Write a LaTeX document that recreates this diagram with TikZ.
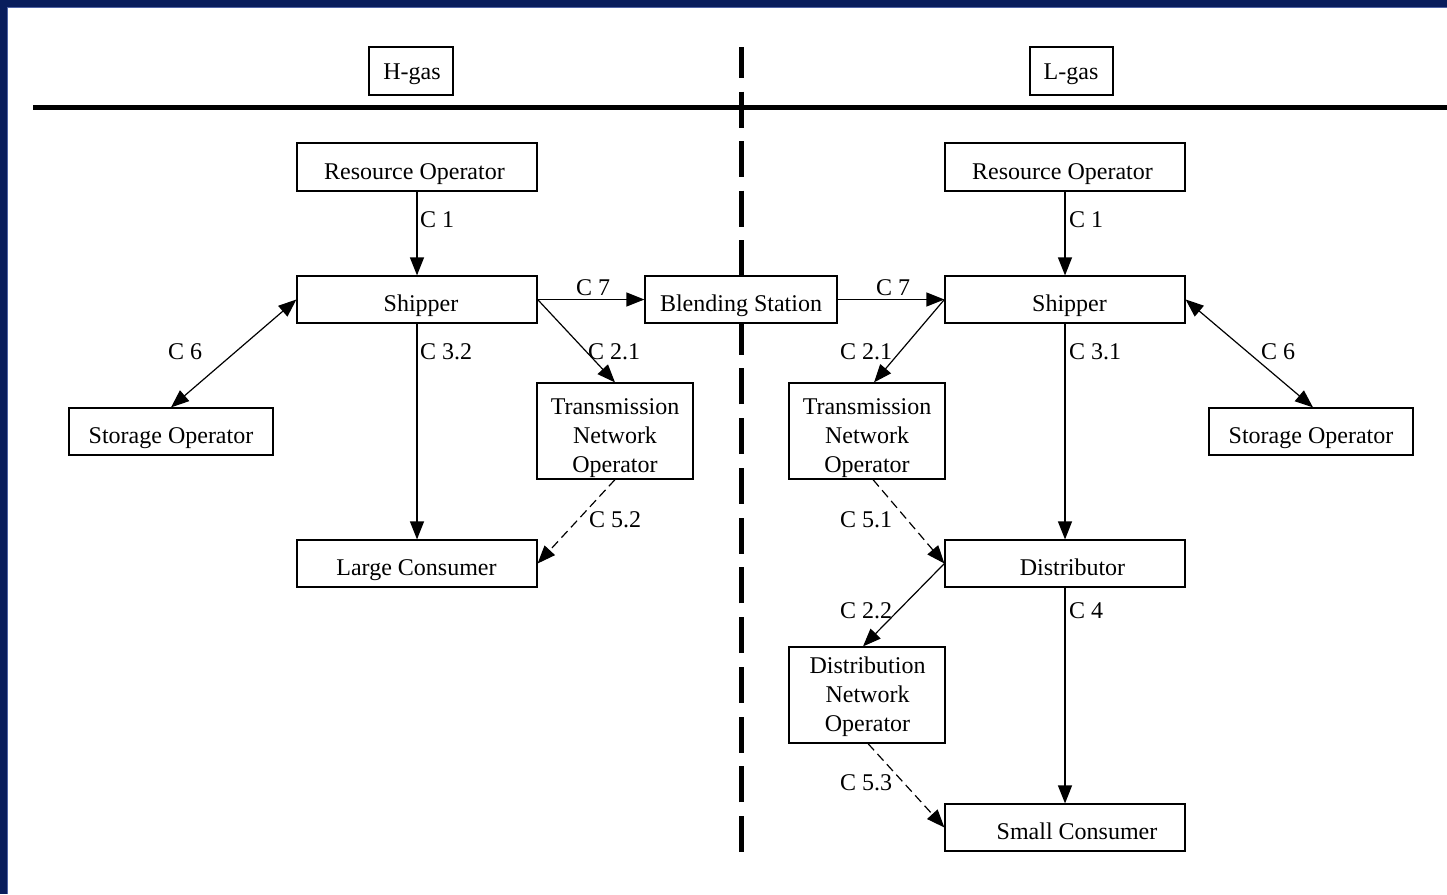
\documentclass[tikz,border=0pt]{standalone}
\usepackage{fontspec}
\setmainfont{Liberation Serif}
\usetikzlibrary{arrows.meta}
\definecolor{navy}{RGB}{9,29,92}
\definecolor{navyedge}{RGB}{80,100,165}
\begin{document}
\begin{tikzpicture}[x=1pt,y=-1pt,
  box/.style={draw,fill=white,line width=1.2pt,inner sep=0pt},
  txt/.style={font=\fontsize{24}{29}\selectfont,inner sep=0pt,anchor=base},
  lab/.style={font=\fontsize{24}{29}\selectfont,inner sep=0pt,anchor=west},
  conn/.style={line width=1.2pt,-{Triangle[length=18pt,width=14pt]}},
  dconn/.style={conn,dash pattern=on 9pt off 5pt},
  bconn/.style={line width=1.2pt,{Triangle[length=18pt,width=14pt]}-{Triangle[length=18pt,width=14pt]}},
  divider/.style={line width=5pt}]
\useasboundingbox (0,0) rectangle (1447,894);
\fill[white] (0,0) rectangle (1447,894);
% frame
\fill[navy] (0,0) rectangle (1447,7);
\fill[navy] (0,0) rectangle (7,894);
\draw[navyedge,line width=1pt] (7.5,894) -- (7.5,7.5) -- (1447,7.5);
% dividers
\draw[divider] (33,107.5) -- (1447,107.5);
\draw[divider,dash pattern=on 36pt off 13.5pt,dash phase=5pt] (741.5,47) -- (741.5,323);
\draw[divider,dash pattern=on 36pt off 13.75pt] (741.5,852) -- (741.5,320);
% boxes
\node[box,minimum width=84pt,minimum height=48pt] (hg) at (411,71) {};
\node[box,minimum width=83pt,minimum height=48pt] (lg) at (1071.5,71) {};
\node[box,minimum width=240pt,minimum height=48pt] (ro1) at (417,167) {};
\node[box,minimum width=240pt,minimum height=47pt] (sh1) at (417,299.5) {};
\node[box,minimum width=192pt,minimum height=47pt] (bs) at (741,299.5) {};
\node[box,minimum width=240pt,minimum height=47pt] (sh2) at (1065,299.5) {};
\node[box,minimum width=240pt,minimum height=48pt] (ro2) at (1065,167) {};
\node[box,minimum width=204pt,minimum height=47pt] (so1) at (171,431.5) {};
\node[box,minimum width=156pt,minimum height=96pt] (tno1) at (615,431) {};
\node[box,minimum width=240pt,minimum height=47pt] (lc) at (417,563.5) {};
\node[box,minimum width=156pt,minimum height=96pt] (tno2) at (867,431) {};
\node[box,minimum width=204pt,minimum height=47pt] (so2) at (1311,431.5) {};
\node[box,minimum width=240pt,minimum height=47pt] (dist) at (1065,563.5) {};
\node[box,minimum width=156pt,minimum height=96pt] (dno) at (867,695) {};
\node[box,minimum width=240pt,minimum height=47pt] (sc) at (1065,827.5) {};
% texts
\node[txt] (thg) at (412,79) {H-gas};
\node[txt] (tlg) at (1071,79) {L-gas};
\node[txt] (tro1) at (414.5,179) {Resource Operator};
\node[txt] (tsh1) at (421,311.5) {Shipper};
\node[txt] (tbs) at (741,311.5) {Blending Station};
\node[txt] (tsh2) at (1069.5,311.5) {Shipper};
\node[txt] (tro2) at (1062.5,179) {Resource Operator};
\node[txt] (tso1) at (171,443.5) {Storage Operator};
\node[txt] (tso2) at (1311,443.5) {Storage Operator};
\node[txt] (tlc) at (416.5,575.5) {Large Consumer};
\node[txt] (tdist) at (1072.5,575.5) {Distributor};
\node[txt] (tsc) at (1077,839.5) {Small Consumer};
\node[txt] (ttno1a) at (615,414.5) {Transmission};
\node[txt] (ttno1b) at (615,443.5) {Network};
\node[txt] (ttno1c) at (615,472.5) {Operator};
\node[txt] (ttno2a) at (867,414.5) {Transmission};
\node[txt] (ttno2b) at (867,443.5) {Network};
\node[txt] (ttno2c) at (867,472.5) {Operator};
\node[txt] (tdnoa) at (867.5,673.5) {Distribution};
\node[txt] (tdnob) at (867.5,702.5) {Network};
\node[txt] (tdnoc) at (867.5,731.5) {Operator};
% connectors
\draw[conn] (ro1.south) -- (sh1.north);
\draw[conn] (sh1.east) -- (bs.west);
\draw[conn] (sh1.east) -- (tno1.north);
\draw[bconn] (sh1.west) -- (so1.north);
\draw[conn] (sh1.south) -- (lc.north);
\draw[dconn] (tno1.south) -- (lc.east);
\draw[conn] (bs.east) -- (sh2.west);
\draw[conn] (ro2.south) -- (sh2.north);
\draw[conn] (sh2.west) -- ([xshift=7pt]tno2.north);
\draw[bconn] (sh2.east) -- ([xshift=2pt]so2.north);
\draw[conn] (sh2.south) -- (dist.north);
\draw[dconn] ([xshift=6pt]tno2.south) -- (dist.west);
\draw[conn] (dist.west) -- ([xshift=-4pt]dno.north);
\draw[conn] (dist.south) -- (sc.north);
\draw[dconn] ([xshift=1pt]dno.south) -- (sc.west);
% labels
\node[lab] (l1) at (420,220) {C 1};
\node[lab] (l2) at (1069,220) {C 1};
\node[lab] (l3) at (576,288) {C 7};
\node[lab] (l4) at (876,288) {C 7};
\node[lab] (l5) at (588,352) {C 2.1};
\node[lab] (l6) at (840,352) {C 2.1};
\node[lab] (l7) at (168,352) {C 6};
\node[lab] (l8) at (1261,352) {C 6};
\node[lab] (l9) at (420,352) {C 3.2};
\node[lab] (l10) at (1069,352) {C 3.1};
\node[lab] (l11) at (589,520) {C 5.2};
\node[lab] (l12) at (840,520) {C 5.1};
\node[lab] (l13) at (840,611) {C 2.2};
\node[lab] (l14) at (1069,611) {C 4};
\node[lab] (l15) at (840,783) {C 5.3};
\end{tikzpicture}
\end{document}
